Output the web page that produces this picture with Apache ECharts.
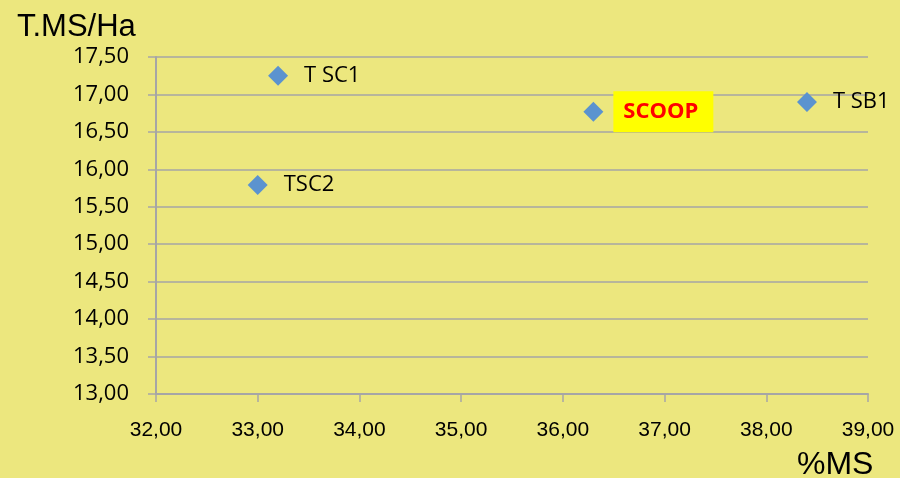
<!DOCTYPE html>
<html><head><meta charset="utf-8">
<script src="https://cdn.jsdelivr.net/npm/echarts@6/dist/echarts.min.js"></script>
<style>html,body{margin:0;padding:0;background:#ECE77E;}#c{width:900px;height:478px;}</style>
</head><body><div id="c"></div>
<script>
const names = ['T SC1', 'TSC2', 'SCOOP', 'T SB1'];
const xValues = [33.2, 33.0, 36.3, 38.4];
const yValues = [17.25, 15.79, 16.77, 16.90];
const yTitle = 'T.MS/Ha';
const xTitle = '%MS';

const fmt = v => v.toFixed(2).replace('.', ',');
const data = names.map((n, i) => {
  const item = { name: n, value: [xValues[i], yValues[i]] };
  if (n === 'SCOOP') {
    item.label = { color: '#FF0000', fontWeight: 'bold', fontSize: 22, backgroundColor: '#FFFF00',
      padding: [10, 15, 9, 10], distance: 10 };
  }
  return item;
});

const chart = echarts.init(document.getElementById('c'));
chart.setOption({
  backgroundColor: '#ECE77E',
  animation: false,
  grid: { left: 156, right: 32, top: 57, bottom: 84 },
  graphic: [
    { type: 'text', left: 17, top: 12, style: { text: yTitle, font: '31px "Liberation Sans", Arial', fill: '#000' } },
    { type: 'text', left: 797, top: 449, style: { text: xTitle, font: '32px "Liberation Sans", Arial', fill: '#000' } }
  ],
  xAxis: {
    type: 'value', min: 32, max: 39, interval: 1,
    axisLine: { show: true, lineStyle: { color: '#A6A6A6', width: 2 } },
    axisTick: { show: true, length: 8, lineStyle: { color: '#A6A6A6', width: 1.5 } },
    splitLine: { show: false },
    axisLabel: { formatter: fmt, color: '#000', fontSize: 21, margin: 26,
      fontFamily: '"Liberation Sans", Arial' }
  },
  yAxis: {
    type: 'value', min: 13, max: 17.5, interval: 0.5,
    axisLine: { show: true, lineStyle: { color: '#A6A6A6', width: 2 } },
    axisTick: { show: true, length: 8, lineStyle: { color: '#A6A6A6', width: 1.5 } },
    splitLine: { show: true, lineStyle: { color: '#A6A6A6', width: 1.5 } },
    axisLabel: { formatter: fmt, color: '#000', fontSize: 22, margin: 27,
      fontFamily: '"Open Sans", "Liberation Sans", Arial' }
  },
  series: [{
    type: 'scatter',
    symbol: 'diamond',
    symbolSize: 20,
    itemStyle: { color: '#5B93CF', opacity: 1 },
    data: data,
    label: { show: true, position: 'right', distance: 16, formatter: p => p.name,
      color: '#000', fontSize: 22, fontFamily: '"Open Sans", "Liberation Sans", Arial' }
  }]
});
</script></body></html>
